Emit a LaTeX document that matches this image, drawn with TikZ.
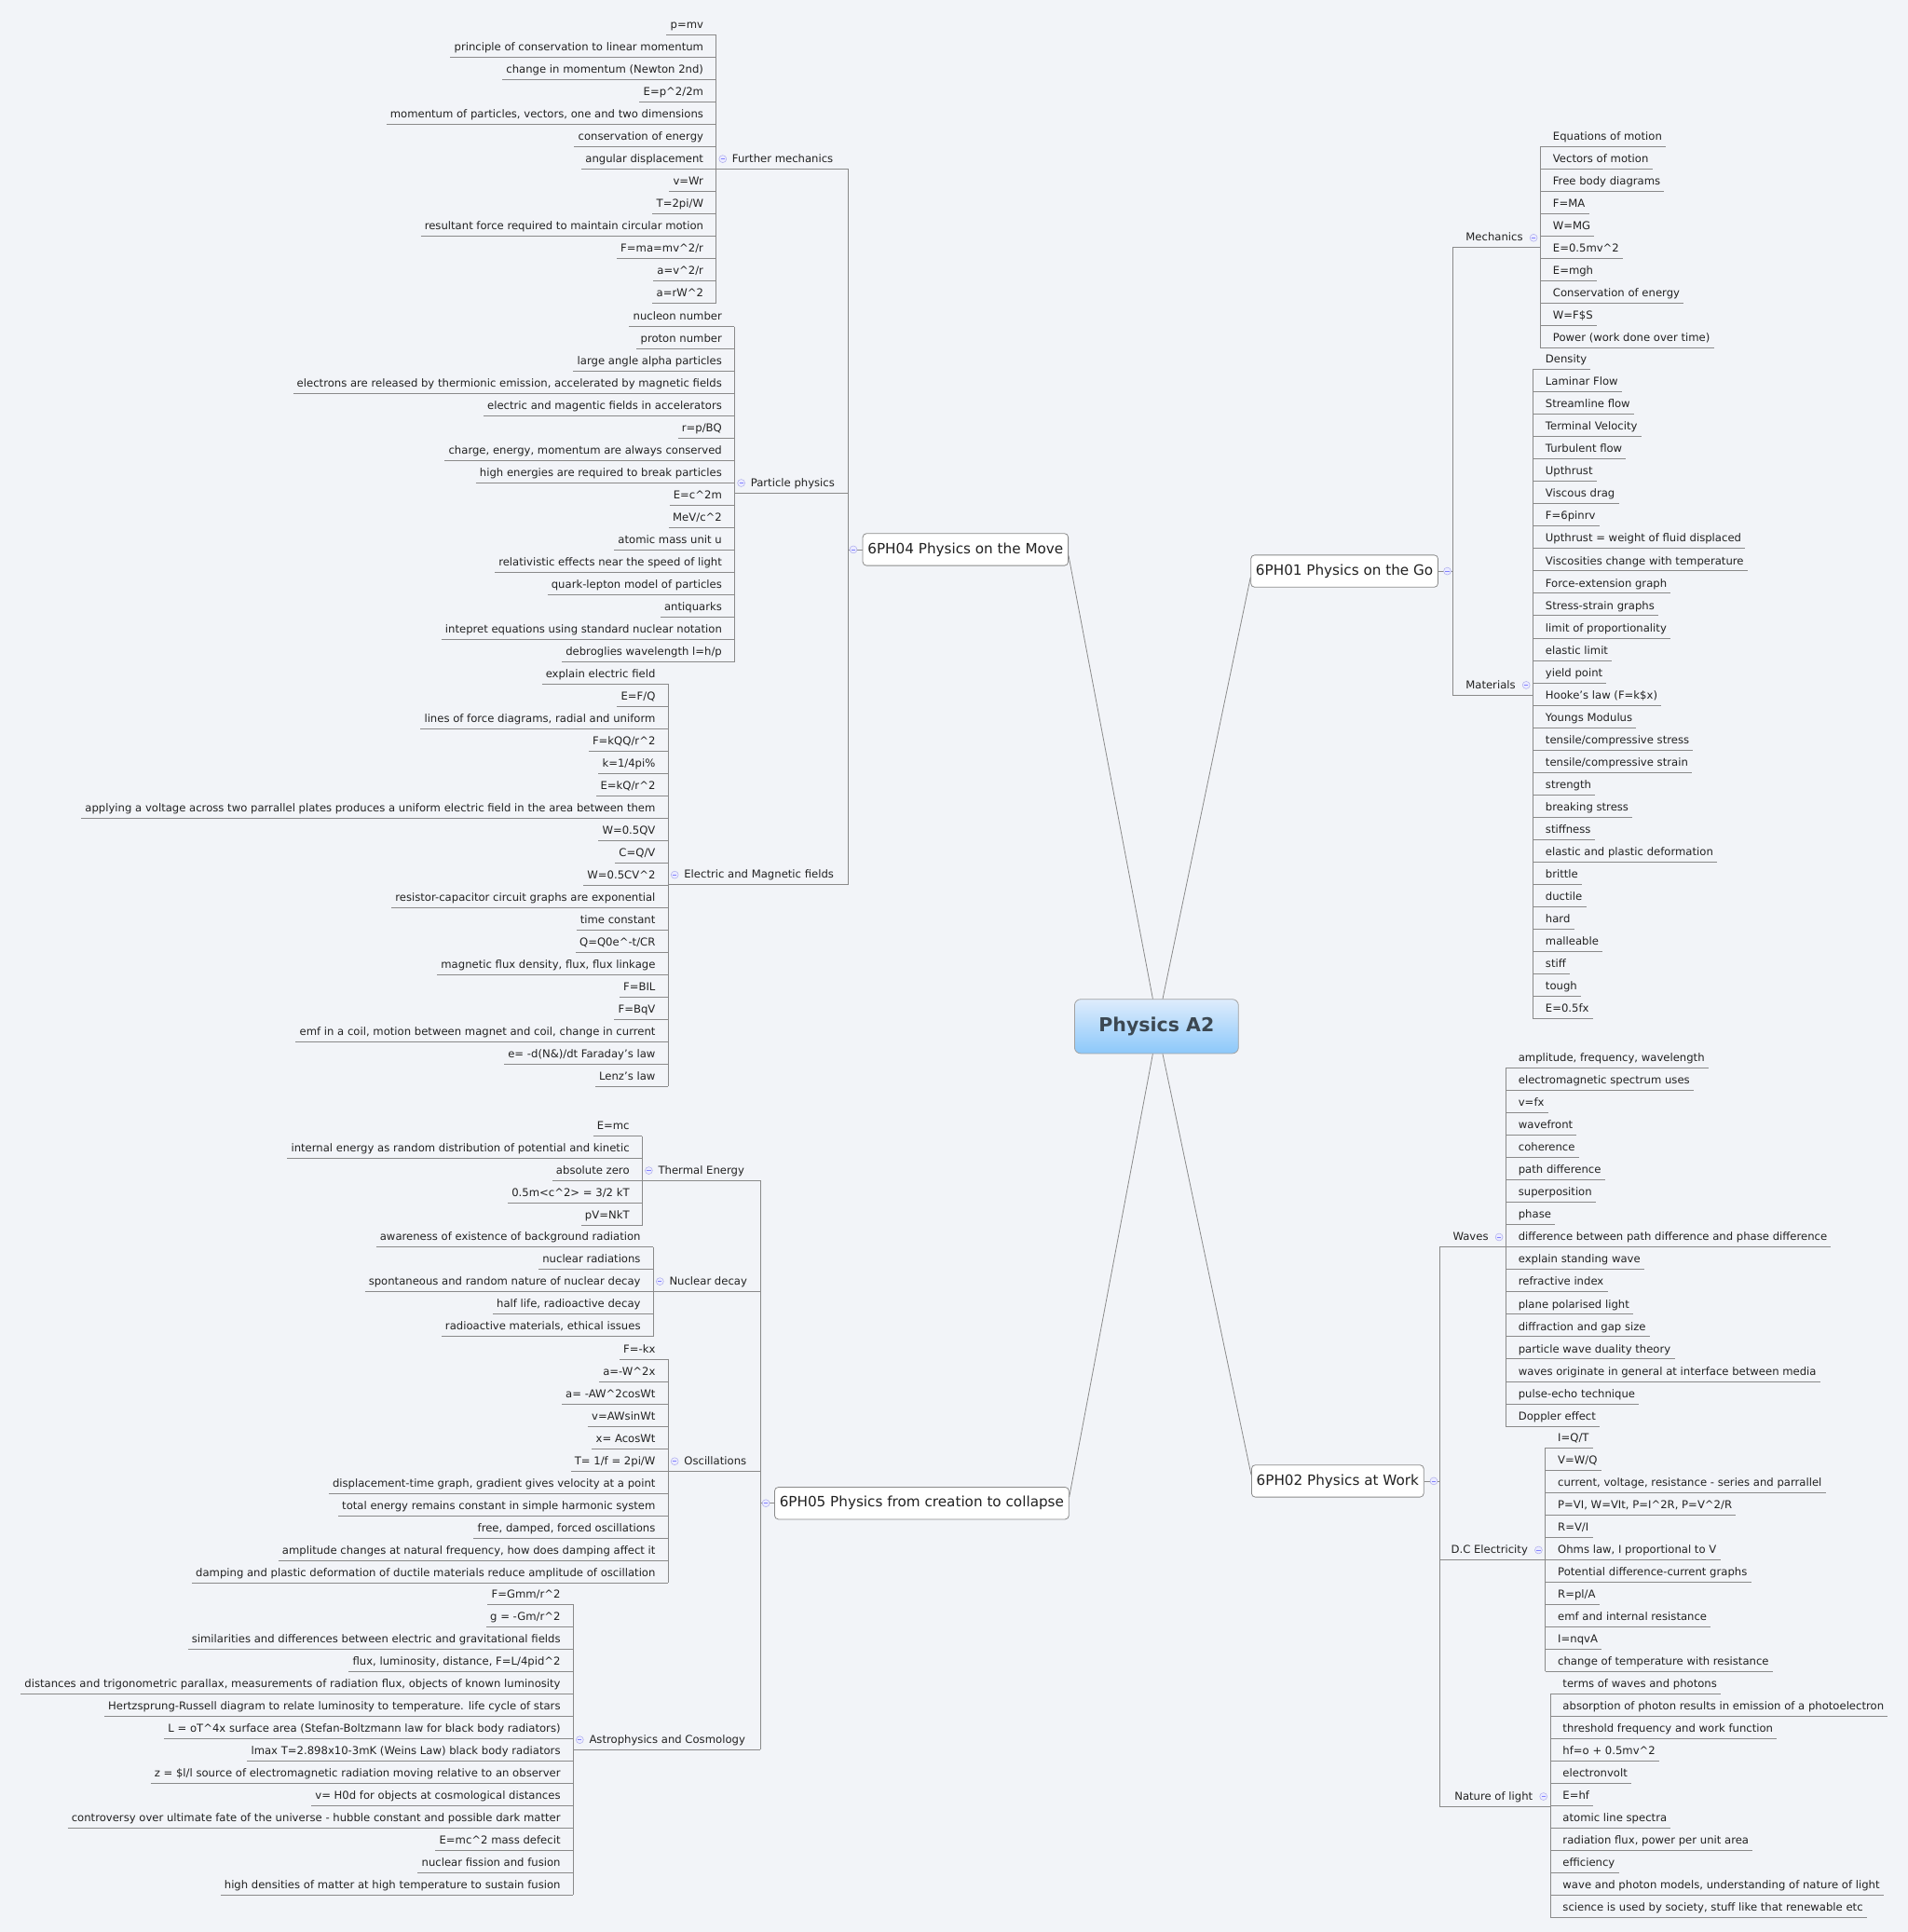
\documentclass[tikz,border=0pt]{standalone}
\usepackage{fontspec}
\setmainfont{DejaVu Sans}
\newcommand\ca{\textasciicircum}
\definecolor{bg}{HTML}{F2F4F8}
\definecolor{ln}{HTML}{8A8A8A}
\definecolor{tx}{HTML}{222222}
\tikzset{
 leaf/.style={inner xsep=3pt,inner ysep=3pt,text height=6pt,text depth=2pt,font=\fontsize{8.8}{10}\selectfont,text=tx},
 conn/.style={draw=ln,line width=0.6pt},
 topic/.style={draw=ln,fill=white,rounded corners=3pt,line width=0.6pt,inner xsep=4pt,minimum height=26pt,font=\fontsize{11.5}{13}\selectfont,text=tx},
 fold/.style={circle,draw=ln!40!blue!40,fill=blue!8,inner sep=0pt,minimum size=6pt,line width=0.4pt,
   path picture={\draw[blue!50,line width=0.5pt] ([xshift=-1.6pt]path picture bounding box.center) -- ([xshift=1.6pt]path picture bounding box.center);}}
}
% left group: name, bracket x, first y, n, list
\newcommand\LGroup[5]{%
 \foreach \t [count=\i] in {#5}{%
  \node[leaf,anchor=south east] (#1-\i) at ({#2-7},{#3+(\i-1)*18.15+9}) {\t};
  \draw[conn] (#1-\i.south west) -- (#2,{#3+(\i-1)*18.15+9});
 }
 \draw[conn] (#2,{#3+9}) -- (#2,{#3+(#4-1)*18.15+9});
}
\newcommand\RGroup[5]{%
 \foreach \t [count=\i] in {#5}{%
  \node[leaf,anchor=south west] (#1-\i) at ({#2+7},{#3+(\i-1)*18.15+9}) {\t};
  \draw[conn] (#2,{#3+(\i-1)*18.15+9}) -- (#1-\i.south east);
 }
 \draw[conn] (#2,{#3+9}) -- (#2,{#3+(#4-1)*18.15+9});
}
% left parent: name, bracket x, y, trunk x, text
\newcommand\LParent[5]{%
 \node[leaf,anchor=south west,inner xsep=0pt] (#1) at ({#2+13},{#3+9}) {#5};
 \coordinate (#1-t) at (#4,{#3+9});
 \draw[conn] (#2,{#3+9}) -- (#1-t);
 \node[fold] (#1-f) at ({#2+5.5},{#3+1}) {};
}
\newcommand\RParent[5]{%
 \node[leaf,anchor=south east,inner xsep=0pt] (#1) at ({#2-14},{#3+9}) {#5};
 \coordinate (#1-t) at (#4,{#3+9});
 \draw[conn] (#1-t) -- (#2,{#3+9});
 \node[fold] (#1-f) at ({#2-5.5},{#3+1}) {};
}
\begin{document}
\begin{tikzpicture}[x=1pt,y=-1pt]
\fill[bg] (0,0) rectangle (1548,1568);
\useasboundingbox (0,0) rectangle (1548,1568);

% central
\node[draw=ln!80,rounded corners=5pt,top color={rgb,255:red,222;green,236;blue,252},bottom color={rgb,255:red,140;green,200;blue,250},minimum width=133pt,minimum height=44pt,font=\fontsize{15.5}{17}\bfseries,text={rgb,255:red,60;green,72;blue,82},line width=0.6pt] (c) at (938.5,833) {Physics A2};

\node[topic] (t4) at (783.5,446) {6PH04 Physics on the Move};
\node[topic] (t1) at (1091,463.5) {6PH01 Physics on the Go};
\node[topic] (t5) at (748,1220) {6PH05 Physics from creation to collapse};
\node[topic] (t2) at (1085.5,1202) {6PH02 Physics at Work};

\draw[conn] ([xshift=-3pt]c.north) -- ([yshift=-5pt]t4.east);
\draw[conn] ([xshift=5pt]c.north) -- ([yshift=-5pt]t1.west);
\draw[conn] ([xshift=-3pt]c.south) -- ([yshift=5pt]t5.east);
\draw[conn] ([xshift=5pt]c.south) -- ([yshift=5pt]t2.west);

% ---------- 6PH04 ----------
\LGroup{fm}{581}{19}{13}{p=mv,principle of conservation to linear momentum,change in momentum (Newton 2nd),E=p\ca2/2m,{momentum of particles, vectors, one and two dimensions},conservation of energy,angular displacement,v=Wr,T=2pi/W,resultant force required to maintain circular motion,F=ma=mv\ca2/r,a=v\ca2/r,a=rW\ca2}
\LParent{pfm}{581}{128}{688}{Further mechanics}
\LGroup{pp}{596}{256}{16}{nucleon number,proton number,large angle alpha particles,{electrons are released by thermionic emission, accelerated by magnetic fields},electric and magentic fields in accelerators,r=p/BQ,{charge, energy, momentum are always conserved},high energies are required to break particles,E=c\ca2m,MeV/c\ca2,atomic mass unit u,relativistic effects near the speed of light,quark-lepton model of particles,antiquarks,intepret equations using standard nuclear notation,debroglies wavelength l=h/p}
\LParent{ppp}{596}{391}{688}{Particle physics}
\LGroup{em}{542}{546}{19}{explain electric field,E=F/Q,{lines of force diagrams, radial and uniform},F=kQQ/r\ca2,k=1/4pi\%,E=kQ/r\ca2,applying a voltage across two parrallel plates produces a uniform electric field in the area between them,W=0.5QV,C=Q/V,W=0.5CV\ca2,resistor-capacitor circuit graphs are exponential,time constant,Q=Q0e\ca-t/CR,{magnetic flux density, flux, flux linkage},F=BIL,F=BqV,{emf in a coil, motion between magnet and coil, change in current},e= -d(N\&)/dt Faraday's law,Lenz's law}
\LParent{pem}{542}{709}{688}{Electric and Magnetic fields}
\coordinate (t4j) at (688,446);
\draw[conn] (pfm-t) -- (pem-t);
\draw[conn] (t4j) -- (t4.west);
\node[fold] at (692.5,446) {};

% ---------- 6PH05 ----------
\LGroup{te}{521}{913}{5}{E=mc,internal energy as random distribution of potential and kinetic,absolute zero,0.5m<c\ca2> = 3/2 kT,pV=NkT}
\LParent{pte}{521}{949}{617}{Thermal Energy}
\LGroup{nd}{530}{1003}{5}{awareness of existence of background radiation,nuclear radiations,spontaneous and random nature of nuclear decay,{half life, radioactive decay},{radioactive materials, ethical issues}}
\LParent{pnd}{530}{1039}{617}{Nuclear decay}
\LGroup{os}{542}{1094}{11}{F=-kx,a=-W\ca2x,a= -AW\ca2cosWt,v=AWsinWt,x= AcosWt,T= 1/f = 2pi/W,{displacement-time graph, gradient gives velocity at a point},total energy remains constant in simple harmonic system,{free, damped, forced oscillations},{amplitude changes at natural frequency, how does damping affect it},damping and plastic deformation of ductile materials reduce amplitude of oscillation}
\LParent{pos}{542}{1185}{617}{Oscillations}
\LGroup{ac}{465}{1293}{14}{F=Gmm/r\ca2,g = -Gm/r\ca2,similarities and differences between electric and gravitational fields,{flux, luminosity, distance, F=L/4pid\ca2},{distances and trigonometric parallax, measurements of radiation flux, objects of known luminosity},Hertzsprung-Russell diagram to relate luminosity to temperature. life cycle of stars,L = oT\ca4x surface area (Stefan-Boltzmann law for black body radiators),lmax T=2.898x10-3mK (Weins Law) black body radiators,z = \$l/l source of electromagnetic radiation moving relative to an observer,v= H0d for objects at cosmological distances,controversy over ultimate fate of the universe - hubble constant and possible dark matter,E=mc\ca2 mass defecit,nuclear fission and fusion,high densities of matter at high temperature to sustain fusion}
\LParent{pac}{465}{1411}{617}{Astrophysics and Cosmology}
\draw[conn] (pte-t) -- (pac-t);
\draw[conn] (617,1220) -- (t5.west);
\node[fold] at (621.5,1220) {};

% ---------- 6PH01 ----------
\RGroup{me}{1250}{110}{10}{Equations of motion,Vectors of motion,Free body diagrams,F=MA,W=MG,E=0.5mv\ca2,E=mgh,Conservation of energy,W=F\$S,Power (work done over time)}
\RParent{pme}{1250}{192}{1179}{Mechanics}
\RGroup{ma}{1244}{291}{30}{Density,Laminar Flow,Streamline flow,Terminal Velocity,Turbulent flow,Upthrust,Viscous drag,F=6pinrv,Upthrust = weight of fluid displaced,Viscosities change with temperature,Force-extension graph,Stress-strain graphs,limit of proportionality,elastic limit,yield point,Hooke's law (F=k\$x),Youngs Modulus,tensile/compressive stress,tensile/compressive strain,strength,breaking stress,stiffness,elastic and plastic deformation,brittle,ductile,hard,malleable,stiff,tough,E=0.5fx}
\RParent{pma}{1244}{555}{1179}{Materials}
\draw[conn] (pme-t) -- (pma-t);
\draw[conn] (t1.east) -- (1179,463.5);
\node[fold] at (1174.5,463.5) {};

% ---------- 6PH02 ----------
\RGroup{wa}{1222}{858}{17}{{amplitude, frequency, wavelength},electromagnetic spectrum uses,v=fx,wavefront,coherence,path difference,superposition,phase,difference between path difference and phase difference,explain standing wave,refractive index,plane polarised light,diffraction and gap size,particle wave duality theory,waves originate in general at interface between media,pulse-echo technique,Doppler effect}
\RParent{pwa}{1222}{1003}{1168}{Waves}
\RGroup{dc}{1254}{1166}{11}{I=Q/T,V=W/Q,{current, voltage, resistance - series and parrallel},{P=VI, W=VIt, P=I\ca2R, P=V\ca2/R},R=V/I,{Ohms law, I proportional to V},Potential difference-current graphs,R=pl/A,emf and internal resistance,I=nqvA,change of temperature with resistance}
\RParent{pdc}{1254}{1257}{1168}{D.C Electricity}
\RGroup{nl}{1258}{1366}{11}{terms of waves and photons,absorption of photon results in emission of a photoelectron,threshold frequency and work function,hf=o + 0.5mv\ca2,electronvolt,E=hf,atomic line spectra,{radiation flux, power per unit area},efficiency,{wave and photon models, understanding of nature of light},{science is used by society, stuff like that renewable etc}}
\RParent{pnl}{1258}{1457}{1168}{Nature of light}
\draw[conn] (pwa-t) -- (pnl-t);
\draw[conn] (t2.east) -- (1168,1202);
\node[fold] at (1163.5,1202) {};
\end{tikzpicture}
\end{document}
